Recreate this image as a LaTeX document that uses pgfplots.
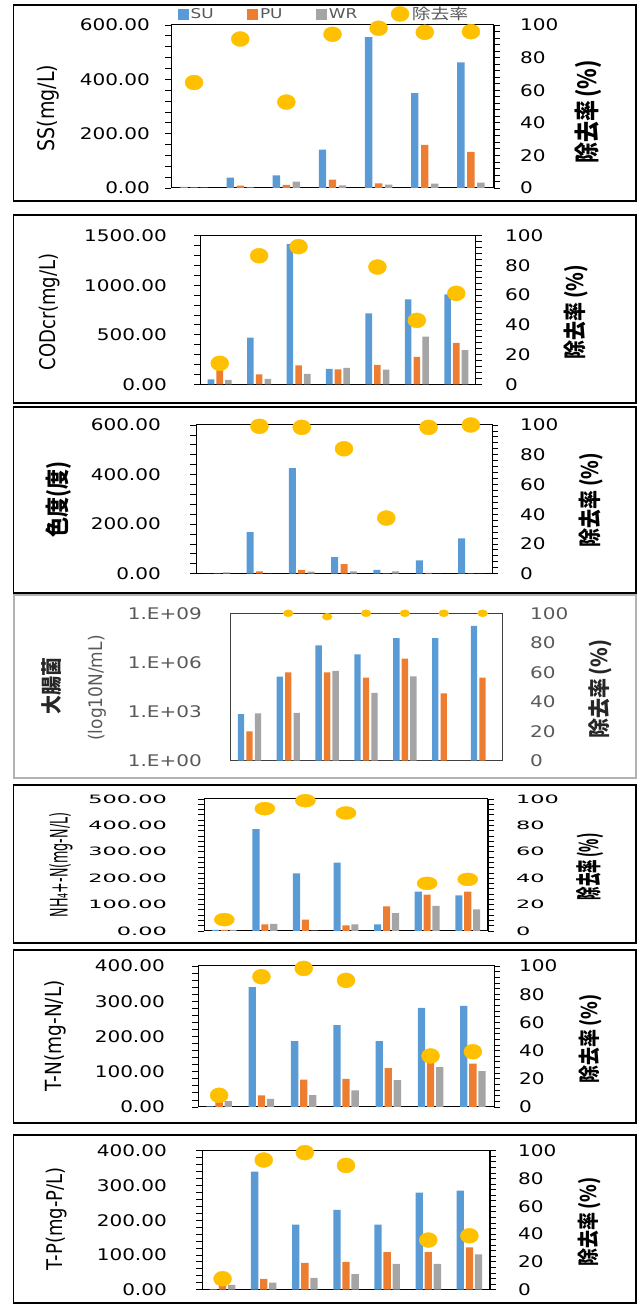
\documentclass[border=0pt]{standalone}
\usepackage{fontspec}
\usepackage{graphicx}
\usepackage{pgfplots}
\pgfplotsset{compat=1.18}
\setmainfont{DejaVu Sans}
\newfontfamily\tickfam{DejaVu Sans}[FakeStretch=1.25]
\newfontfamily\widefam{DejaVu Sans}[FakeStretch=1.95]
\newfontfamily\cjk{Noto Sans CJK JP}
\newfontfamily\cjkw{Noto Sans CJK JP}[FakeStretch=1.25]
\newcommand\tf{\tickfam\fontsize{16bp}{16bp}\selectfont}
\newcommand\tfw{\widefam\fontsize{11.5bp}{11.5bp}\selectfont}
\definecolor{suc}{HTML}{5B9BD5}
\definecolor{puc}{HTML}{ED7D31}
\definecolor{wrc}{HTML}{A5A5A5}
\definecolor{yc}{HTML}{FFC000}
\definecolor{txtg}{HTML}{595959}
\pgfplotsset{
 base/.style={scale only axis, xmin=-0.5, xmax=6.5, xtick=\empty, clip=false,
   tick align=outside, major tick length=6bp, minor tick length=6bp,
   every tick/.style={black, line width=0.8bp},
   axis line style={black, line width=1bp}},
 L/.style={base, ymin=0, ytick pos=left, minor y tick num=4,
   yticklabel style={font=\tf, anchor=east, inner sep=0pt, xshift=-#1},
   /pgf/number format/fixed, /pgf/number format/fixed zerofill,
   /pgf/number format/precision=2, /pgf/number format/1000 sep={},
   /pgf/number format/assume math mode=true},
 R/.style={base, ymin=0, ymax=100, ytick={0,20,...,100}, minor y tick num=4,
   axis y line*=right, axis x line=none,
   yticklabel style={font=\tf, anchor=west, inner sep=0pt, xshift=#1},
   /pgf/number format/assume math mode=true},
 bar/.style n args={3}{ybar, bar width=#1, bar shift=#2, fill=#3, draw=none},
 rem/.style={only marks, color=yc, mark=*, mark size=7.5bp, mark options={fill=yc, draw=none, xscale=#1}},
 rem/.default=1.2,
}
\begin{document}
\begin{tikzpicture}
\useasboundingbox (0,0) rectangle (643bp,1307bp);
% frames
\draw[line width=1.3bp] (13.5bp,1106bp) rectangle (636bp,1302bp);
\draw[line width=1.3bp] (13.5bp,904bp) rectangle (636bp,1092bp);
\draw[line width=1.3bp] (13.5bp,714bp) rectangle (636bp,900bp);
\draw[line width=2bp, draw=gray!60] (13.5bp,529bp) rectangle (636bp,712bp);
\draw[line width=1.3bp] (13.5bp,364bp) rectangle (636bp,522bp);
\draw[line width=1.3bp] (13.5bp,184bp) rectangle (636bp,357bp);
\draw[line width=1.3bp] (13.5bp,4bp) rectangle (636bp,172bp);

% ===== Panel 1: SS =====
\begin{axis}[L=15bp, at={(171bp,1119bp)}, anchor=south west, width=323bp, height=163bp,
  ymax=600, ytick={0,200,400,600}]
\addplot[bar={7.4bp}{-10bp}{suc}] coordinates {(0,4)(1,38)(2,46)(3,141)(4,555)(5,349)(6,462)};
\addplot[bar={7.4bp}{0bp}{puc}] coordinates {(0,2)(1,9)(2,11)(3,31)(4,17)(5,159)(6,133)};
\addplot[bar={7.4bp}{10bp}{wrc}] coordinates {(0,1)(1,2)(2,23)(3,10)(4,12)(5,16)(6,20)};
\end{axis}
\begin{axis}[R=20bp, at={(171bp,1119bp)}, anchor=south west, width=323bp, height=163bp,
  legend style={at={(0.474,1.0675)}, anchor=center, draw=none, fill=none, inner sep=0pt,
    font=\tickfam\fontsize{13.5bp}{13.5bp}\selectfont, text=txtg,
    /tikz/every even column/.append style={column sep=31bp},
    nodes={inner xsep=2.5bp}},
  legend columns=4]
\addlegendimage{legend image code/.code={\fill[suc] (0bp,-5bp) rectangle (10bp,5bp);}}
\addlegendentry{SU}
\addlegendimage{legend image code/.code={\fill[puc] (0bp,-5bp) rectangle (10bp,5bp);}}
\addlegendentry{PU}
\addlegendimage{legend image code/.code={\fill[wrc] (0bp,-5bp) rectangle (10bp,5bp);}}
\addlegendentry{WR}
\addplot[rem, legend image code/.code={\fill[yc] (4bp,0bp) ellipse [x radius=9bp, y radius=7.5bp];}]
  coordinates {(0,64.7)(1,91.4)(2,52.7)(3,94.3)(4,98)(5,95.5)(6,95.9)};
\addlegendentry{{\cjkw\fontsize{15bp}{15bp}\selectfont 除去率}}
\end{axis}
\node[rotate=90] at (48bp,1199bp) {\scalebox{1}[1.2]{\fontsize{19bp}{19bp}\selectfont SS(mg/L)}};
\node[rotate=90] at (588bp,1195bp) {\scalebox{1}[1.2]{\cjk\bfseries\fontsize{21bp}{21bp}\selectfont 除去率\,(\%)}};

% ===== Panel 2: CODcr =====
\begin{axis}[L=27bp, at={(200bp,922.7bp)}, anchor=south west, width=276bp, height=148.6bp,
  ymax=1500, ytick={0,500,1000,1500}]
\addplot[bar={6.6bp}{-8.7bp}{suc}] coordinates {(0,50)(1,471)(2,1416)(3,155)(4,716)(5,858)(6,908)};
\addplot[bar={6.6bp}{0bp}{puc}] coordinates {(0,150)(1,101)(2,192)(3,151)(4,195)(5,276)(6,417)};
\addplot[bar={6.6bp}{8.7bp}{wrc}] coordinates {(0,44)(1,54)(2,104)(3,165)(4,148)(5,481)(6,346)};
\end{axis}
\begin{axis}[R=23bp, at={(200bp,922.7bp)}, anchor=south west, width=276bp, height=148.6bp]
\addplot[rem] coordinates {(0,14.1)(1,86.5)(2,92.6)(4,78.9)(5,43)(6,61.2)};
\end{axis}
\node[rotate=90] at (50bp,995bp) {\scalebox{1}[1.2]{\fontsize{18bp}{18bp}\selectfont CODcr(mg/L)}};
\node[rotate=90] at (576bp,995bp) {\scalebox{1}[1.2]{\cjk\bfseries\fontsize{19bp}{19bp}\selectfont 除去率\,(\%)}};

% ===== Panel 3: colour =====
\begin{axis}[L=29bp, at={(196bp,733.3bp)}, anchor=south west, width=296bp, height=148.7bp,
  ymax=600, ytick={0,200,400,600}]
\addplot[bar={7bp}{-9.3bp}{suc}] coordinates {(0,0)(1,168)(2,426)(3,67)(4,15)(5,54)(6,143)};
\addplot[bar={7bp}{0bp}{puc}] coordinates {(0,1)(1,9)(2,15)(3,39)(4,1)(5,3)(6,1)};
\addplot[bar={7bp}{9.3bp}{wrc}] coordinates {(0,5)(1,0)(2,8)(3,9)(4,9)(5,0)(6,0)};
\end{axis}
\begin{axis}[R=22bp, at={(196bp,733.3bp)}, anchor=south west, width=296bp, height=148.7bp]
\addplot[rem] coordinates {(1,99.1)(2,98.4)(3,84)(4,37.4)(5,98.4)(6,100)};
\end{axis}
\node[rotate=90] at (59bp,807bp) {\scalebox{1}[1.2]{\cjk\bfseries\fontsize{20bp}{20bp}\selectfont 色度(度)}};
\node[rotate=90] at (591bp,807bp) {\scalebox{1}[1.2]{\cjk\bfseries\fontsize{19bp}{19bp}\selectfont 除去率\,(\%)}};

% ===== Panel 4: E. coli (log) =====
\begin{axis}[scale only axis, at={(230bp,546.3bp)}, anchor=south west, width=272bp, height=147.4bp,
  xmin=-0.5, xmax=6.5, xtick=\empty, clip=false, ymode=log, ymin=1, ymax=1e9,
  ytick={1,1e3,1e6,1e9}, yticklabels={1.E+00,1.E+03,1.E+06,1.E+09},
  minor y tick num=0, yminorticks=false, major tick length=0,
  axis line style={draw=black!75, line width=0.8bp},
  yticklabel style={font=\tf, text=txtg, anchor=east, inner sep=0pt, xshift=-28bp}]
\addplot[bar={6.3bp}{-8.5bp}{suc}] coordinates {(0,708)(1,1.35e5)(2,1.1e7)(3,3.1e6)(4,3e7)(5,3e7)(6,1.7e8)};
\addplot[bar={6.3bp}{0bp}{puc}] coordinates {(0,62)(1,2.5e5)(2,2.5e5)(3,1.2e5)(4,1.7e6)(5,1.3e4)(6,1.2e5)};
\addplot[bar={6.3bp}{8.5bp}{wrc}] coordinates {(0,780)(1,820)(2,3e5)(3,1.4e4)(4,1.4e5)};
\end{axis}
\begin{axis}[scale only axis, at={(230bp,546.3bp)}, anchor=south west, width=272bp, height=147.4bp,
  xmin=-0.5, xmax=6.5, clip=false, ymin=0, ymax=100, ytick={0,20,...,100},
  axis y line*=right, axis x line=none, major tick length=0, minor y tick num=0,
  axis line style={draw=none},
  yticklabel style={font=\tf, text=txtg, anchor=west, inner sep=0pt, xshift=28bp},
  /pgf/number format/assume math mode=true]
\addplot[only marks, color=yc, mark=*, mark size=3.5bp, mark options={fill=yc, draw=none, xscale=1.4}]
  coordinates {(1,100)(2,97.7)(3,100)(4,100)(5,100)(6,100)};
\end{axis}
\node[rotate=90, text=black!85] at (52bp,621bp) {\scalebox{1}[1.1]{\cjk\bfseries\fontsize{19bp}{19bp}\selectfont 大腸菌}};
\node[rotate=90, text=txtg] at (97bp,619bp) {\scalebox{1}[1.1]{\fontsize{17bp}{17bp}\selectfont (log10N/mL)}};
\node[rotate=90, text=black!85] at (600bp,618bp) {\scalebox{1}[1.1]{\cjk\bfseries\fontsize{20bp}{20bp}\selectfont 除去率\,(\%)}};

% ===== Panel 5: NH4-N =====
\begin{axis}[L=31bp, at={(204bp,376bp)}, anchor=south west, width=284bp, height=132bp,
  ymax=500, ytick={0,100,...,500}, yticklabel style={font=\tfw}]
\addplot[bar={7.1bp}{-8.9bp}{suc}] coordinates {(0,4)(1,386)(2,218)(3,259)(4,25)(5,149)(6,135)};
\addplot[bar={7.1bp}{0bp}{puc}] coordinates {(0,4)(1,25)(2,43)(3,21)(4,93)(5,138)(6,149)};
\addplot[bar={7.1bp}{8.9bp}{wrc}] coordinates {(0,4)(1,26.5)(2,1)(3,25)(4,68)(5,95)(6,82)};
\end{axis}
\begin{axis}[R=22bp, at={(204bp,376bp)}, anchor=south west, width=284bp, height=132bp,
  yticklabel style={font=\tfw}]
\addplot[rem=1.55, mark size=6.5bp] coordinates {(0,8.6)(1,92.7)(2,98.7)(3,89.4)(5,36.1)(6,39.1)};
\end{axis}
\node[rotate=90] at (61bp,442bp) {\scalebox{1}[1.9]{\fontsize{12.7bp}{12.7bp}\selectfont NH₄+-N(mg-N/L)}};
\node[rotate=90] at (590bp,440bp) {\scalebox{1}[1.9]{\cjk\bfseries\fontsize{13.5bp}{13.5bp}\selectfont 除去率\,(\%)}};

% ===== Panel 6: T-N =====
\begin{axis}[L=27bp, at={(198bp,200bp)}, anchor=south west, width=296bp, height=141bp,
  ymax=400, ytick={0,100,...,400}]
\addplot[bar={7.3bp}{-9.1bp}{suc}] coordinates {(0,2)(1,340)(2,187)(3,232)(4,187)(5,281)(6,287)};
\addplot[bar={7.3bp}{0bp}{puc}] coordinates {(0,15)(1,33)(2,78)(3,80)(4,110)(5,128)(6,123)};
\addplot[bar={7.3bp}{9.1bp}{wrc}] coordinates {(0,17)(1,23)(2,34)(3,47)(4,76)(5,113)(6,102)};
\end{axis}
\begin{axis}[R=19bp, at={(198bp,200bp)}, anchor=south west, width=296bp, height=141bp]
\addplot[rem] coordinates {(0,8.3)(1,92.4)(2,98.3)(3,89.8)(5,36.2)(6,39.2)};
\end{axis}
\node[rotate=90] at (55bp,271bp) {\scalebox{1}[1.2]{\fontsize{18.5bp}{18.5bp}\selectfont T-N(mg-N/L)}};
\node[rotate=90] at (590bp,268bp) {\scalebox{1}[1.2]{\cjk\bfseries\fontsize{18bp}{18bp}\selectfont 除去率\,(\%)}};

% ===== Panel 7: T-P =====
\begin{axis}[L=29bp, at={(202bp,17.3bp)}, anchor=south west, width=288bp, height=139bp,
  ymax=400, ytick={0,100,...,400}]
\addplot[bar={7.3bp}{-9.1bp}{suc}] coordinates {(0,2)(1,340)(2,187)(3,230)(4,187)(5,279)(6,285)};
\addplot[bar={7.3bp}{0bp}{puc}] coordinates {(0,13)(1,31)(2,77)(3,80)(4,108)(5,108)(6,122)};
\addplot[bar={7.3bp}{9.1bp}{wrc}] coordinates {(0,14)(1,20)(2,34)(3,45)(4,74)(5,74)(6,102)};
\end{axis}
\begin{axis}[R=22bp, at={(202bp,17.3bp)}, anchor=south west, width=288bp, height=139bp]
\addplot[rem] coordinates {(0,7.9)(1,93.3)(2,98.6)(3,89.4)(5,35.7)(6,38.8)};
\end{axis}
\node[rotate=90] at (57bp,88bp) {\scalebox{1}[1.2]{\fontsize{18bp}{18bp}\selectfont T-P(mg-P/L)}};
\node[rotate=90] at (589bp,85bp) {\scalebox{1}[1.2]{\cjk\bfseries\fontsize{18bp}{18bp}\selectfont 除去率\,(\%)}};
\end{tikzpicture}
\end{document}
